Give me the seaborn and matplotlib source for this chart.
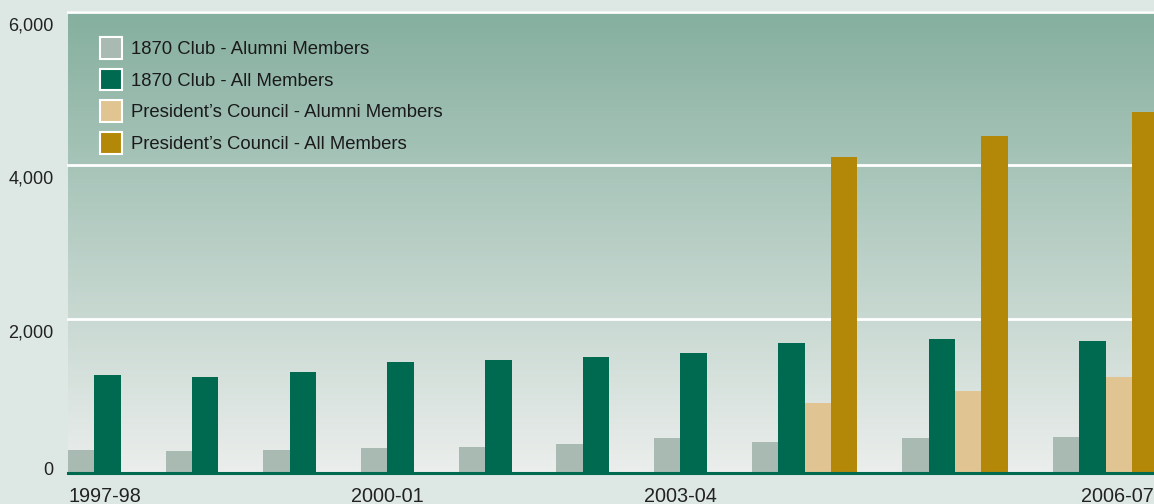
import numpy as np
import pandas as pd
import matplotlib
matplotlib.use('Agg')
import matplotlib.pyplot as plt
from matplotlib.colors import LinearSegmentedColormap
from matplotlib.transforms import ScaledTranslation
import seaborn as sns

# --- Data ---
seasons = ['1997-98', '1998-99', '1999-00', '2000-01', '2001-02',
           '2002-03', '2003-04', '2004-05', '2005-06', '2006-07']
club_alumni = [300, 290, 300, 330, 340, 380, 460, 410, 460, 470]
club_all = [1280, 1250, 1315, 1445, 1470, 1510, 1565, 1695, 1745, 1720]
pc_alumni = [None] * 7 + [915, 1070, 1250]
pc_all = [None] * 7 + [4110, 4380, 4695]

series_names = ['1870 Club - Alumni Members', '1870 Club - All Members',
                'President\u2019s Council - Alumni Members',
                'President\u2019s Council - All Members']
series_colors = ['#a9bab2', '#006a51', '#e0c592', '#b38708']

tick_seasons = ['1997-98', '2000-01', '2003-04', '2006-07']
y_ticks = [0, 2000, 4000, 6000]
y_ticklabels = ['0', '2,000', '4,000', '6,000']

# --- Layout: bars packed per season, only the series that exist ---
GAP = 1.7  # gap between seasons, in bar widths
rows = []
spans = {}
pos = 0.0
for i, s in enumerate(seasons):
    start = pos
    for name, vals in zip(series_names, [club_alumni, club_all, pc_alumni, pc_all]):
        if vals[i] is None:
            continue
        rows.append({'season': s, 'series': name, 'pos': pos + 0.5, 'value': vals[i]})
        pos += 1
    spans[s] = (start, pos)
    pos += GAP
df = pd.DataFrame(rows)

# --- Figure ---
W, H = 1154, 504
fig = plt.figure(figsize=(W / 100, H / 100), dpi=100)
fig.patch.set_facecolor('#dde8e4')
plt.rcParams['font.family'] = ['Liberation Sans', 'DejaVu Sans']

rect = [68 / W, (H - 473.3) / H, (W - 68) / W, 461.8 / H]

# gradient panel behind the bars
bg = fig.add_axes(rect, zorder=0)
grad = LinearSegmentedColormap.from_list('panel', ['#85af9f', '#ebeeec'])
bg.imshow(np.linspace(0, 1, 256).reshape(-1, 1), cmap=grad, aspect='auto',
          extent=[0, 1, 0, 1])
bg.set_axis_off()

ax = fig.add_axes(rect, zorder=1)
ax.patch.set_alpha(0)

for v in y_ticks[1:]:
    ax.axhline(v, color='white', lw=2.0, zorder=1, clip_on=False)

sns.barplot(data=df, x='pos', y='value', hue='series', hue_order=series_names,
            palette=series_colors, native_scale=True, width=1.0, errorbar=None,
            saturation=1, linewidth=0, ax=ax, zorder=2)

ax.axhline(0, color='#006a51', lw=2.2, zorder=5, clip_on=False)

ax.set_xlim(0, (W - 68) / 26.4)
ax.set_ylim(0, 6000)
for sp in ax.spines.values():
    sp.set_visible(False)
ax.set_xlabel('')
ax.set_ylabel('')

# y labels hang just below the gridlines
ax.set_yticks(y_ticks)
ax.set_yticklabels(y_ticklabels, fontsize=13, color='#222222')
ax.tick_params(axis='y', length=0, pad=10.5)
shift = ScaledTranslation(0, -4 / 72, fig.dpi_scale_trans)
for lab in ax.get_yticklabels():
    lab.set_va('bottom' if lab.get_text() == '0' else 'top')
    lab.set_transform(lab.get_transform() + shift)

# x labels: first flush left, last flush right, others centred on the group
xt, xa = [], []
for s in tick_seasons:
    a, b = spans[s]
    if s == seasons[0]:
        xt.append(a); xa.append('left')
    elif s == seasons[-1]:
        xt.append(ax.get_xlim()[1]); xa.append('right')
    else:
        xt.append((a + b) / 2); xa.append('center')
ax.set_xticks(xt)
ax.set_xticklabels(tick_seasons, fontsize=14.3, color='#222222')
ax.tick_params(axis='x', length=0, pad=10)
for lab, ha in zip(ax.get_xticklabels(), xa):
    lab.set_ha(ha)

# --- Legend ---
sns.move_legend(ax, 'upper left', bbox_to_anchor=(0.0297, 0.945), title=None,
                frameon=False, fontsize=13.3, handlelength=1.19, handleheight=1.455,
                labelspacing=0.52, handletextpad=0.5, borderpad=0, borderaxespad=0)
leg = ax.get_legend()
for h in leg.legend_handles:
    h.set_edgecolor('white')
    h.set_linewidth(1.5)
for t in leg.get_texts():
    t.set_color('#1a1a1a')

fig.savefig('out.png', dpi=100, facecolor=fig.get_facecolor())
